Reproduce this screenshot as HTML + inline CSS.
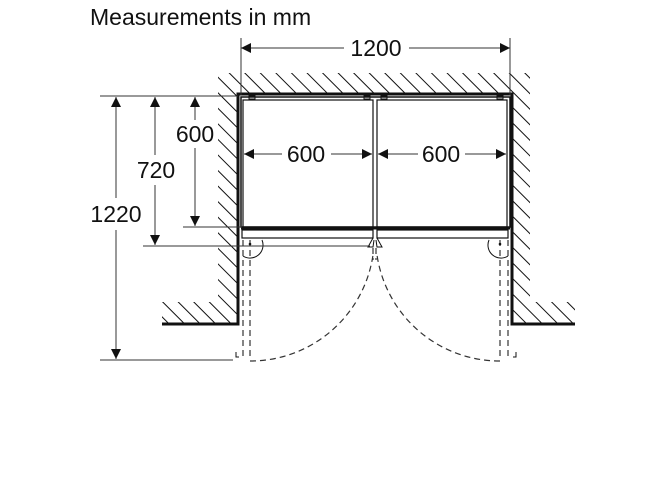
<!DOCTYPE html>
<html><head><meta charset="utf-8"><style>
html,body{margin:0;padding:0;background:#fff;width:667px;height:500px;overflow:hidden}
svg{display:block}
text{font-family:"Liberation Sans",Arial,sans-serif;fill:#111}
</style></head><body>
<svg width="667" height="500" viewBox="0 0 667 500" xmlns="http://www.w3.org/2000/svg">
<defs>
<pattern id="h" patternUnits="userSpaceOnUse" width="11" height="11" patternTransform="rotate(-45)">
<line x1="0" y1="0" x2="0" y2="11" stroke="#111" stroke-width="2"/>
</pattern>
<marker id="a" viewBox="0 0 10 10" refX="10" refY="5" markerWidth="14" markerHeight="10" markerUnits="userSpaceOnUse" orient="auto-start-reverse">
<path d="M0,0 L10,5 L0,10 z" fill="#111"/>
</marker>
</defs>
<text x="90" y="25" font-size="23">Measurements in mm</text>

<!-- hatching -->
<polygon points="220,73 530,73 530,302 575,302 575,323 512,323 512,95 238,95 238,323 162,323 162,302 218,302 218,73" fill="url(#h)"/>
<!-- wall lines -->
<polyline points="162,324 238,324 238,94 512,94 512,324 575,324" fill="none" stroke="#111" stroke-width="3"/>

<!-- fridge -->
<rect x="241" y="97" width="269" height="130" fill="none" stroke="#111" stroke-width="1.5"/>
<rect x="243" y="100" width="130" height="127" fill="none" stroke="#111" stroke-width="1.2"/>
<rect x="377" y="100" width="130" height="127" fill="none" stroke="#111" stroke-width="1.2"/>
<line x1="241" y1="228" x2="510" y2="228" stroke="#111" stroke-width="3"/>
<rect x="242" y="230" width="131" height="8" fill="none" stroke="#111" stroke-width="1.2"/>
<rect x="377" y="230" width="131" height="8" fill="none" stroke="#111" stroke-width="1.2"/>
<g fill="none" stroke="#111" stroke-width="1">
<rect x="249" y="96" width="6" height="3"/><rect x="364" y="96" width="6" height="3"/>
<rect x="381" y="96" width="6" height="3"/><rect x="497" y="96" width="6" height="3"/>
<path d="M373,238 L368,247 L373,247 L374,240 M377,238 L382,247 L377,247 L376,240"/>
</g>

<!-- doors -->
<g fill="none" stroke="#333" stroke-width="1.2" stroke-dasharray="6,4">
<line x1="243" y1="240" x2="243" y2="360"/>
<line x1="250" y1="240" x2="250" y2="360"/>
<line x1="500" y1="240" x2="500" y2="360"/>
<line x1="508" y1="240" x2="508" y2="360"/>
<line x1="373" y1="248" x2="373" y2="260"/>
<line x1="376" y1="248" x2="376" y2="260"/>
<path d="M250,361 A124,124 0 0 0 373,255"/>
<path d="M500,361 A124,124 0 0 1 377,255"/>
</g>
<g fill="none" stroke="#111" stroke-width="1">
<path d="M243,256 A13,13 0 0 0 262,240"/>
<path d="M508,256 A13,13 0 0 1 489,240"/>
<path d="M236,352 l0,5 l3,0"/><path d="M516,352 l0,5 l-3,0"/>
</g>
<circle cx="250" cy="244" r="1.3" fill="#111"/><circle cx="500" cy="244" r="1.3" fill="#111"/>

<!-- dimension lines -->
<g stroke="#333" stroke-width="1" fill="none">
<line x1="241" y1="38" x2="241" y2="95"/>
<line x1="510" y1="38" x2="510" y2="95"/>
<line x1="100" y1="96" x2="238" y2="96"/>
<line x1="183" y1="227" x2="242" y2="227"/>
<line x1="143" y1="246" x2="370" y2="246"/>
<line x1="100" y1="360" x2="233" y2="360"/>
<line x1="241" y1="48" x2="344" y2="48" marker-start="url(#a)"/>
<line x1="409" y1="48" x2="510" y2="48" marker-end="url(#a)"/>
<line x1="244" y1="154" x2="282" y2="154" marker-start="url(#a)"/>
<line x1="331" y1="154" x2="372" y2="154" marker-end="url(#a)"/>
<line x1="378" y1="154" x2="418" y2="154" marker-start="url(#a)"/>
<line x1="465" y1="154" x2="506" y2="154" marker-end="url(#a)"/>
<line x1="195" y1="97" x2="195" y2="120" marker-start="url(#a)"/>
<line x1="195" y1="148" x2="195" y2="226" marker-end="url(#a)"/>
<line x1="155" y1="97" x2="155" y2="155" marker-start="url(#a)"/>
<line x1="155" y1="185" x2="155" y2="245" marker-end="url(#a)"/>
<line x1="116" y1="97" x2="116" y2="198" marker-start="url(#a)"/>
<line x1="116" y1="230" x2="116" y2="359" marker-end="url(#a)"/>
</g>
<g font-size="23" text-anchor="middle">
<text x="376" y="56">1200</text>
<text x="306" y="162">600</text>
<text x="441" y="162">600</text>
<text x="195" y="142">600</text>
<text x="156" y="178">720</text>
<text x="116" y="222">1220</text>
</g>
</svg>
</body></html>
